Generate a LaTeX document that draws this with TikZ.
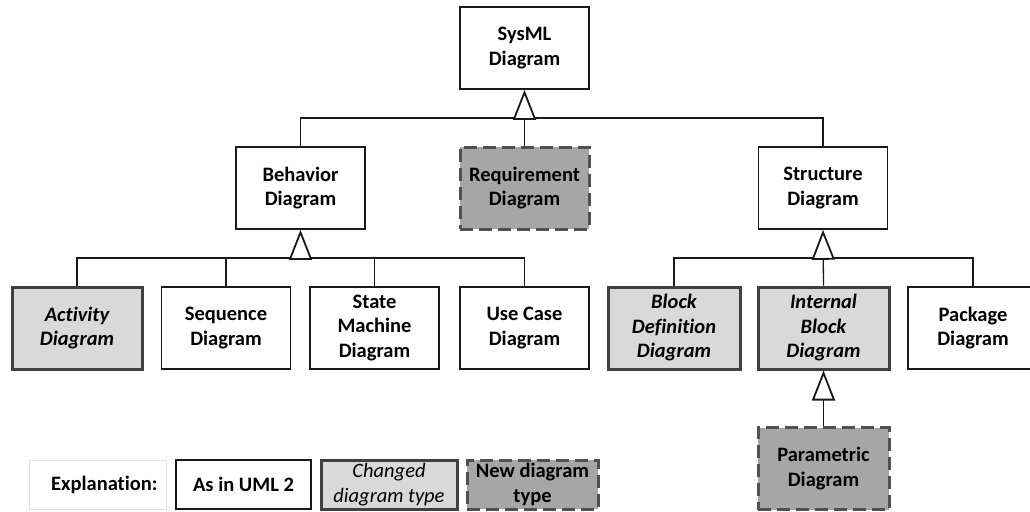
\documentclass[tikz,border=0pt]{standalone}
\usepackage{fontspec}
\setmainfont{Carlito}[Ligatures={NoCommon,NoRequired,NoContextual}]
\usetikzlibrary{arrows.meta}
\definecolor{chgfill}{HTML}{D9D9D9}
\definecolor{newfill}{HTML}{A6A6A6}
\definecolor{chgdraw}{HTML}{404040}
\definecolor{newdraw}{HTML}{505050}
\definecolor{expdraw}{HTML}{E2E2E2}
\tikzset{
  box/.style={draw=black!90, line width=1.6pt, fill=white, minimum width=129pt, minimum height=82pt, inner sep=2pt, align=center, font=\fontsize{20.5}{24.5}\selectfont\bfseries},
  chgbox/.style={box, fill=chgfill, draw=chgdraw, line width=3pt, font=\fontsize{20.5}{24.5}\selectfont\bfseries\itshape},
  newbox/.style={box, fill=newfill, draw=newdraw, line width=3pt, dash pattern=on 13pt off 6pt},
  legbox/.style={box, minimum height=49pt},
  conn/.style={line width=1.3pt, black!90},
  gen/.style={conn, -{Triangle[open, length=30pt, width=23pt, line width=1.8pt, fill=white]}}
}
\begin{document}
\begin{tikzpicture}[x=1pt, y=-1pt]
\useasboundingbox (0,0) rectangle (1030,511);
% top
\node[box] (sysml) at (524.5,48) {SysML\\Diagram};
\node[box] (beh) at (300.5,188) {Behavior\\Diagram};
\node[newbox] (req) at (524.5,188) {Requirement\\Diagram};
\node[box] (str) at (823,188) {Structure\\Diagram};
% bottom row
\node[chgbox, minimum width=130pt] (act) at (77,328) {Activity\\Diagram};
\node[box] (seq) at (226,328) {Sequence\\Diagram};
\node[box] (sm) at (374.5,328) {State\\Machine\\Diagram};
\node[box] (uc) at (524.5,328) {Use Case\\Diagram};
\node[chgbox, minimum width=132pt] (bdd) at (674,328) {Block\\Definition\\Diagram};
\node[chgbox, minimum width=131pt] (ibd) at (823.5,328) {Internal\\Block\\Diagram};
\node[box, minimum width=130pt] (pkg) at (973,328) {Package\\Diagram};
\node[newbox, minimum width=131pt] (par) at (823.5,468.5) {Parametric\\Diagram};
% legend
\node[legbox, draw=expdraw, line width=0.8pt, minimum width=137pt, text width=120pt, align=right] (exp) at (97.5,484.5) {Explanation:};
\node[legbox, minimum width=135pt] (leg1) at (243.5,484.5) {As in UML 2};
\node[chgbox, minimum width=136pt, minimum height=49pt, font=\fontsize{20.5}{24.5}\selectfont\itshape] (leg2) at (389,484.5) {Changed\\diagram type};
\node[newbox, minimum width=131pt, minimum height=49pt] (leg3) at (532.5,484.5) {New diagram\\type};
% connectors level 1
\coordinate (b1) at (524.5,118);
\draw[conn] (beh.north) -- (beh.north |- b1) -- (str.north |- b1) -- (str.north);
\draw[gen] (req.north) -- (sysml.south);
% behavior children
\coordinate (b2) at (300.5,258);
\draw[conn] (act.north) -- (act.north |- b2) -- (uc.north |- b2) -- (uc.north);
\draw[conn] (seq.north) -- (seq.north |- b2);
\draw[conn] (sm.north) -- (sm.north |- b2);
\draw[gen] (b2) -- (beh.south);
% structure children
\coordinate (b3) at (823,258);
\draw[conn] (bdd.north) -- (bdd.north |- b3) -- (pkg.north |- b3) -- (pkg.north);
\draw[gen] (ibd.north) -- (str.south);
% parametric
\draw[gen] (par.north) -- (ibd.south);
\end{tikzpicture}
\end{document}
